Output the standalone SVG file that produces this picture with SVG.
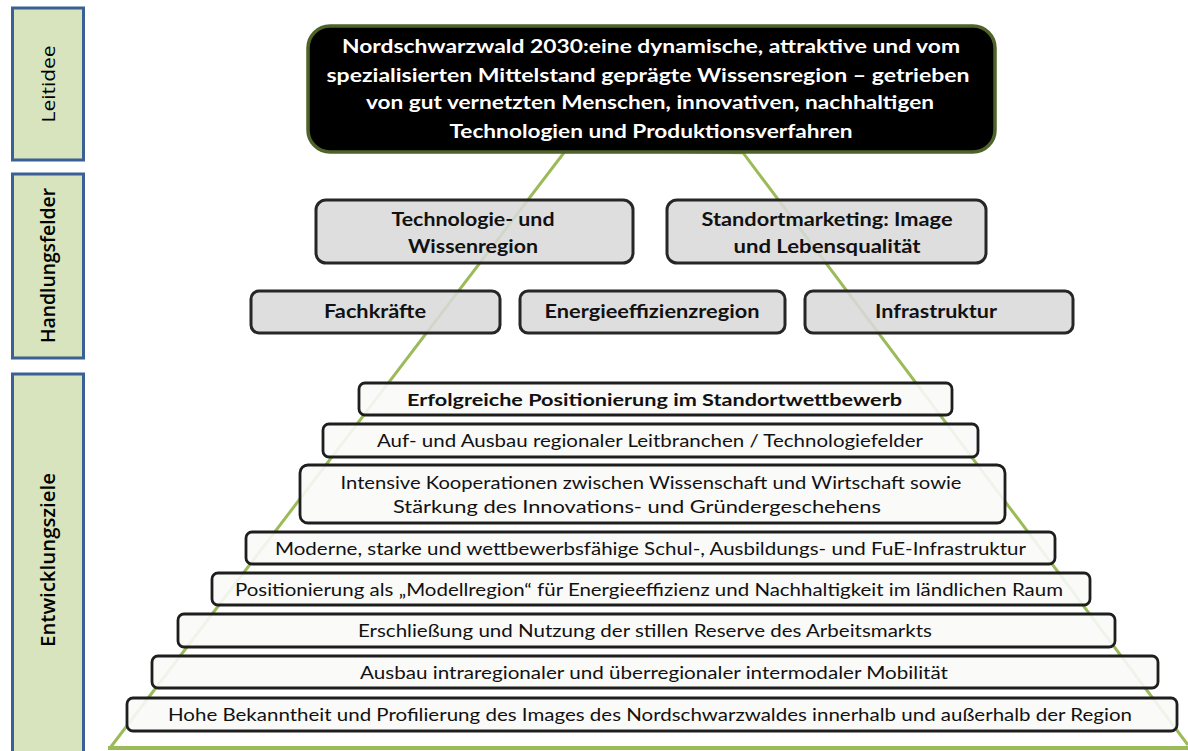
<svg xmlns="http://www.w3.org/2000/svg" width="1188" height="751" viewBox="0 0 1188 751">
<style>
.lab{fill:#d7e4bd;stroke:#3b6093;stroke-width:3}
.labt{font-family:"Open Sans","Noto Sans",sans-serif;font-size:19px;fill:#000;text-anchor:middle;dominant-baseline:central}
.hf{fill:#d9d9d9;fill-opacity:0.88;stroke:#262626;stroke-width:3}
.hft{font-family:Lato,"Open Sans",sans-serif;font-weight:bold;font-size:18px;fill:#111;text-anchor:middle;dominant-baseline:central}
.pb{fill:#fafaf8;fill-opacity:0.9;stroke:#1e1e1e;stroke-width:2.8}
.pt{font-family:Lato,"Open Sans",sans-serif;font-size:17px;fill:#111;text-anchor:middle;dominant-baseline:central}
.wt{font-family:Lato,"Open Sans",sans-serif;font-weight:bold;font-size:19px;fill:#fff;text-anchor:middle;dominant-baseline:central}
</style>

<g id="connectors">
<polyline points="110,748 566,150 743,152.7 1188,745" fill="none" stroke="#9bbb59" stroke-width="3"/>
<line x1="108" y1="748" x2="1188" y2="748" stroke="#9bbb59" stroke-width="4"/>
</g>

<g id="label-leitidee">
<rect class="lab" x="12.5" y="8" width="71" height="152"/>
<text class="labt" transform="translate(48,84) rotate(-90)" textLength="77" lengthAdjust="spacingAndGlyphs">Leitidee</text>
</g>
<g id="label-handlungsfelder">
<rect class="lab" x="12.5" y="174" width="71" height="184"/>
<text class="labt" font-weight="600" transform="translate(48,265.5) rotate(-90)" textLength="155" lengthAdjust="spacingAndGlyphs">Handlungsfelder</text>
</g>
<g id="label-entwicklungsziele">
<rect class="lab" x="12.5" y="374" width="71" height="380"/>
<text class="labt" font-weight="600" transform="translate(48,560) rotate(-90)" textLength="174" lengthAdjust="spacingAndGlyphs">Entwicklungsziele</text>
</g>

<g id="leitidee">
<rect x="308" y="26" width="687" height="126" rx="22" fill="#000" stroke="#4f6228" stroke-width="3.5"/>
<text class="wt" x="651" y="45" textLength="618" lengthAdjust="spacingAndGlyphs">Nordschwarzwald 2030:eine dynamische, attraktive und vom</text>
<text class="wt" x="648" y="74" textLength="643" lengthAdjust="spacingAndGlyphs">spezialisierten Mittelstand geprägte Wissensregion – getrieben</text>
<text class="wt" x="650" y="101" textLength="568" lengthAdjust="spacingAndGlyphs">von gut vernetzten Menschen, innovativen, nachhaltigen</text>
<text class="wt" x="651" y="130" textLength="403" lengthAdjust="spacingAndGlyphs">Technologien und Produktionsverfahren</text>
</g>

<g id="hf-technologie">
<rect class="hf" x="316" y="200" width="317" height="63" rx="10"/>
<text class="hft" x="473" y="219" textLength="163" lengthAdjust="spacingAndGlyphs">Technologie- und</text>
<text class="hft" x="473" y="246" textLength="130" lengthAdjust="spacingAndGlyphs">Wissenregion</text>
</g>
<g id="hf-standortmarketing">
<rect class="hf" x="667" y="200" width="319" height="63" rx="10"/>
<text class="hft" x="827" y="219" textLength="251" lengthAdjust="spacingAndGlyphs">Standortmarketing: Image</text>
<text class="hft" x="827" y="246" textLength="187" lengthAdjust="spacingAndGlyphs">und Lebensqualität</text>
</g>
<g id="hf-fachkraefte">
<rect class="hf" x="251" y="291" width="249" height="42" rx="8"/>
<text class="hft" x="375" y="311" textLength="102" lengthAdjust="spacingAndGlyphs">Fachkräfte</text>
</g>
<g id="hf-energie">
<rect class="hf" x="520" y="291" width="265" height="42" rx="8"/>
<text class="hft" x="652" y="311" textLength="215" lengthAdjust="spacingAndGlyphs">Energieeffizienzregion</text>
</g>
<g id="hf-infrastruktur">
<rect class="hf" x="805" y="291" width="268" height="42" rx="8"/>
<text class="hft" x="936" y="311" textLength="122" lengthAdjust="spacingAndGlyphs">Infrastruktur</text>
</g>

<g id="ez-1">
<rect class="pb" x="359" y="383" width="593" height="32" rx="6"/>
<text class="pt" font-weight="bold" x="654.5" y="399" textLength="495" lengthAdjust="spacingAndGlyphs">Erfolgreiche Positionierung im Standortwettbewerb</text>
</g>
<g id="ez-2">
<rect class="pb" x="323" y="424" width="655" height="33" rx="6"/>
<text class="pt" x="650" y="440" textLength="546" lengthAdjust="spacingAndGlyphs">Auf- und Ausbau regionaler Leitbranchen / Technologiefelder</text>
</g>
<g id="ez-3">
<rect class="pb" x="300" y="465" width="705" height="58" rx="8"/>
<text class="pt" x="651" y="482" textLength="621" lengthAdjust="spacingAndGlyphs">Intensive Kooperationen zwischen Wissenschaft und Wirtschaft sowie</text>
<text class="pt" x="637" y="506" textLength="488" lengthAdjust="spacingAndGlyphs">Stärkung des Innovations- und Gründergeschehens</text>
</g>
<g id="ez-4">
<rect class="pb" x="246" y="532" width="809" height="32" rx="6"/>
<text class="pt" x="650.5" y="548" textLength="751" lengthAdjust="spacingAndGlyphs">Moderne, starke  und wettbewerbsfähige Schul-, Ausbildungs- und FuE-Infrastruktur</text>
</g>
<g id="ez-5">
<rect class="pb" x="212" y="573" width="878" height="32" rx="6"/>
<text class="pt" x="649" y="589" textLength="828" lengthAdjust="spacingAndGlyphs">Positionierung als „Modellregion“ für Energieeffizienz und Nachhaltigkeit im ländlichen Raum</text>
</g>
<g id="ez-6">
<rect class="pb" x="178" y="614" width="937" height="33" rx="6"/>
<text class="pt" x="645" y="630" textLength="574" lengthAdjust="spacingAndGlyphs">Erschließung und Nutzung der stillen Reserve des Arbeitsmarkts</text>
</g>
<g id="ez-7">
<rect class="pb" x="152" y="656" width="1006" height="32" rx="6"/>
<text class="pt" x="654" y="672" textLength="588" lengthAdjust="spacingAndGlyphs">Ausbau intraregionaler und überregionaler intermodaler Mobilität</text>
</g>
<g id="ez-8">
<rect class="pb" x="127" y="698" width="1050" height="33" rx="6"/>
<text class="pt" x="650" y="714" textLength="964" lengthAdjust="spacingAndGlyphs">Hohe Bekanntheit und Profilierung des Images des Nordschwarzwaldes innerhalb und außerhalb der Region</text>
</g>
</svg>
